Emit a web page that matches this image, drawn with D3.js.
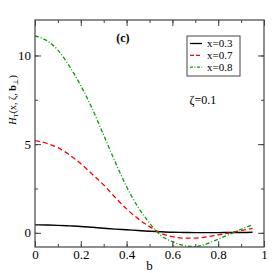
<!DOCTYPE html>
<html lang="en">
<head>
<meta charset="UTF-8">
<title>H_T vs b</title>
<script src="https://cdn.jsdelivr.net/npm/d3@7"></script>
<style>
  body { margin: 0; background: #fff; }
  svg text { font-family: "Liberation Serif", "Times New Roman", Times, "DejaVu Serif", serif; }
</style>
</head>
<body>
<svg width="273" height="273" id="mainsvg"></svg>
<script>
// data
const bVals  = [0, 0.05, 0.1, 0.15, 0.2, 0.25, 0.3, 0.35, 0.4, 0.45, 0.5, 0.55, 0.6, 0.65, 0.7, 0.75, 0.8, 0.85, 0.9, 0.95];
const x03 = [0.45, 0.44, 0.42, 0.39, 0.36, 0.31, 0.26, 0.21, 0.17, 0.13, 0.09, 0.06, 0.03, 0.02, 0.01, 0.01, 0.01, 0.02, 0.02, 0.03];
const x07 = [5.2, 5.05, 4.8, 4.4, 3.9, 3.3, 2.7, 2.0, 1.35, 0.8, 0.35, -0.03, -0.22, -0.3, -0.3, -0.23, -0.11, 0.0, 0.12, 0.25];
const x08 = [11.1, 10.85, 10.3, 9.4, 8.3, 7.0, 5.5, 4.0, 2.6, 1.45, 0.55, -0.15, -0.5, -0.72, -0.78, -0.62, -0.36, -0.08, 0.2, 0.45];
const seriesNames = ['x=0.3', 'x=0.7', 'x=0.8'];
const xTicks = [0, 0.2, 0.4, 0.6, 0.8, 1];
const yTicks = [0, 5, 10];

const serif = '"Liberation Serif", "Times New Roman", Times, serif';
const svg = d3.select('svg');
const margin = {top: 20, right: 9, bottom: 26, left: 35};
const W = 273 - margin.left - margin.right;
const H = 273 - margin.top - margin.bottom;
const g = svg.append('g').attr('transform', `translate(${margin.left},${margin.top})`);

const xScale = d3.scaleLinear().domain([0, 1]).range([0, W]);
const yScale = d3.scaleLinear().domain([-0.8, 12]).range([H, 0]);

const styles = [
  {color: '#000', dash: null, width: 1.4},
  {color: '#ff0000', dash: '5,3', width: 1.3},
  {color: '#00a000', dash: '4,2,1,2', width: 1.3}
];
const series = [x03, x07, x08];

// clip
svg.append('clipPath').attr('id', 'clip').append('rect').attr('width', W).attr('height', H);

const line = d3.line().x(d => xScale(d[0])).y(d => yScale(d[1])).curve(d3.curveMonotoneX);
g.append('g').attr('clip-path', 'url(#clip)').selectAll('path').data(series).join('path')
  .attr('d', d => line(bVals.map((b, i) => [b, d[i]])))
  .attr('fill', 'none')
  .attr('stroke', (d, i) => styles[i].color)
  .attr('stroke-width', (d, i) => styles[i].width)
  .attr('stroke-dasharray', (d, i) => styles[i].dash);

// axes: ticks inward on all sides
const axisColor = '#444';
const xMinor = d3.range(0, 1.0001, 0.1);
const yMinor = d3.range(0, 12, 2.5);
const addAxis = (axis, transform) => {
  const a = g.append('g').attr('transform', transform).call(axis);
  a.select('.domain').remove();
  a.selectAll('line').attr('stroke', axisColor);
  return a;
};
addAxis(d3.axisBottom(xScale).tickValues(xMinor).tickSize(-3).tickFormat(''), `translate(0,${H})`);
addAxis(d3.axisTop(xScale).tickValues(xMinor).tickSize(-3).tickFormat(''), 'translate(0,0)');
addAxis(d3.axisLeft(yScale).tickValues(yMinor).tickSize(-3).tickFormat(''), 'translate(0,0)');
addAxis(d3.axisRight(yScale).tickValues(yMinor).tickSize(-3).tickFormat(''), `translate(${W},0)`);
const xb = addAxis(d3.axisBottom(xScale).tickValues(xTicks).tickSize(-6).tickPadding(3).tickFormat(d3.format('')), `translate(0,${H})`);
addAxis(d3.axisTop(xScale).tickValues(xTicks).tickSize(-6).tickFormat(''), 'translate(0,0)');
const yl = addAxis(d3.axisLeft(yScale).tickValues(yTicks).tickSize(-6).tickPadding(4), 'translate(0,0)');
addAxis(d3.axisRight(yScale).tickValues(yTicks).tickSize(-6).tickFormat(''), `translate(${W},0)`);
[xb, yl].forEach(a => {
  a.attr('font-family', serif);
  a.selectAll('text').attr('font-size', 13).attr('fill', '#000');
});

g.append('rect').attr('width', W).attr('height', H)
  .attr('fill', 'none').attr('stroke', axisColor).attr('stroke-width', 1.2);

// axis titles
svg.append('text').attr('x', margin.left + W / 2).attr('y', 270)
  .attr('text-anchor', 'middle').attr('font-family', serif).attr('font-size', 13).text('b');
const yt = svg.append('text').attr('transform', 'translate(16,100) rotate(-90)')
  .attr('text-anchor', 'middle').attr('font-family', serif).attr('font-size', 10);
yt.append('tspan').attr('font-style', 'italic').text('H');
yt.append('tspan').attr('font-size', 7).attr('dy', 2).text('T');
yt.append('tspan').attr('dy', -2).text('(x, \u03B6, ');
yt.append('tspan').attr('font-weight', 'bold').text('b');
yt.append('tspan').attr('font-size', 7).attr('dy', 2).text('\u22A5');
yt.append('tspan').attr('dy', -2).text(')');

// panel label and annotation
g.append('text').attr('x', xScale(0.355)).attr('y', yScale(10.75)).attr('font-family', serif)
  .attr('font-size', 12).attr('font-weight', 'bold').text('(c)');
g.append('text').attr('x', xScale(0.675)).attr('y', yScale(7.25)).attr('font-family', serif)
  .attr('font-size', 12).text('\u03B6=0.1');

// legend
const lg = svg.append('g').attr('transform', 'translate(187,36)');
lg.append('rect').attr('width', 53).attr('height', 40)
  .attr('fill', '#fff').attr('stroke', axisColor).attr('stroke-width', 1);
seriesNames.forEach((name, i) => {
  const y = 7.5 + i * 11.8;
  lg.append('line').attr('x1', 3).attr('x2', 15).attr('y1', y).attr('y2', y)
    .attr('stroke', styles[i].color).attr('stroke-width', 1.3)
    .attr('stroke-dasharray', styles[i].dash ? (i === 1 ? '4,2' : '3,1.5,1,1.5') : null);
  lg.append('text').attr('x', 20).attr('y', y + 3.8).attr('font-family', serif)
    .attr('font-size', 11).text(name);
});
</script>
</body>
</html>
